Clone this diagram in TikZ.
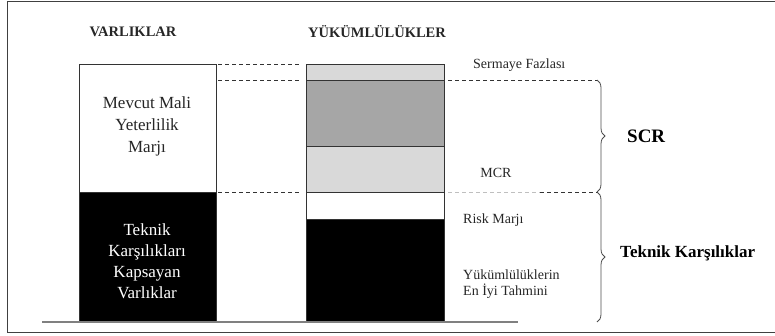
\documentclass[tikz,border=0pt]{standalone}
\usepackage{fontspec}
\setmainfont{Liberation Serif}
\usetikzlibrary{decorations.pathreplacing}

\begin{document}
\begin{tikzpicture}[x=1pt,y=-1pt,
  band/.style={draw=black!80,line width=0.8pt},
  guide/.style={dash pattern=on 4pt off 3pt,line width=0.9pt,draw=black!80},
  lbl/.style={font=\fontsize{14}{16}\selectfont,inner sep=0pt,text=black!85},
  head/.style={font=\fontsize{14.5}{17}\selectfont\bfseries,inner sep=0pt,text=black!85},
  brc/.style={decorate,decoration={brace,amplitude=8pt},draw=black!70,line width=0.8pt}]
\useasboundingbox (0,0) rectangle (775,335);
% the frame
\draw[black!75,line width=1.5pt] (775,1.5) -- (7.5,1.5) -- (7.5,332.5) -- (775,332.5);
% the headings
\node[head] (varlik) at (133,32) {VARLIKLAR};
\node[head] (yukum) at (377,32) {YÜKÜMLÜLÜKLER};
% the left column
\draw[band,fill=white] (79,64) rectangle (216,192);
\draw[band,fill=black] (79,192) rectangle (216,322);
\node[align=center,font=\fontsize{17}{22}\selectfont,text=black!85] (mevcut) at (147,126) {Mevcut Mali\\Yeterlilik\\Marjı};
\node[align=center,font=\fontsize{17}{21}\selectfont,text=white] (kapsayan) at (147,261) {Teknik\\Karşılıkları\\Kapsayan\\Varlıklar};
% the right column
\draw[band,fill=gray!30] (306,64) rectangle (444,80);
\draw[band,fill=black!35] (306,80) rectangle (444,146);
\draw[band,fill=gray!30] (306,146) rectangle (444,192);
\draw[band,fill=white] (306,192) rectangle (444,219);
\draw[band,fill=black] (306,219) rectangle (444,322);
% the base line
\draw[gray,line width=2pt] (42,322) -- (518,322);
% the dashed guides
\draw[guide] (218,64) -- (300,64);
\draw[guide] (218,80) -- (300,80);
\draw[guide] (218,192) -- (300,192);
\draw[guide] (448,80) -- (597,80);
\draw[guide,draw=black!25] (448,192) -- (540,192);
\draw[guide] (540,192) -- (597,192);
% the braces
\draw[brc] (597,80) -- (597,192);
\draw[brc] (597,192) -- (597,322);
% the labels
\node[lbl,anchor=west] (fazla) at (473,65) {Sermaye Fazlası};
\node[lbl] (mcr) at (496,173) {MCR};
\node[lbl,anchor=west] (risk) at (463,220) {Risk Marjı};
\node[lbl,anchor=west,align=left] (tahmin) at (463,284) {Yükümlülüklerin\\En İyi Tahmini};
\node[font=\fontsize{19}{22}\selectfont\bfseries,inner sep=0pt,anchor=west] (scr) at (627,136) {SCR};
\node[font=\fontsize{17}{20}\selectfont\bfseries,inner sep=0pt,anchor=west] (teknik) at (620,253) {Teknik Karşılıklar};
\end{tikzpicture}
\end{document}
